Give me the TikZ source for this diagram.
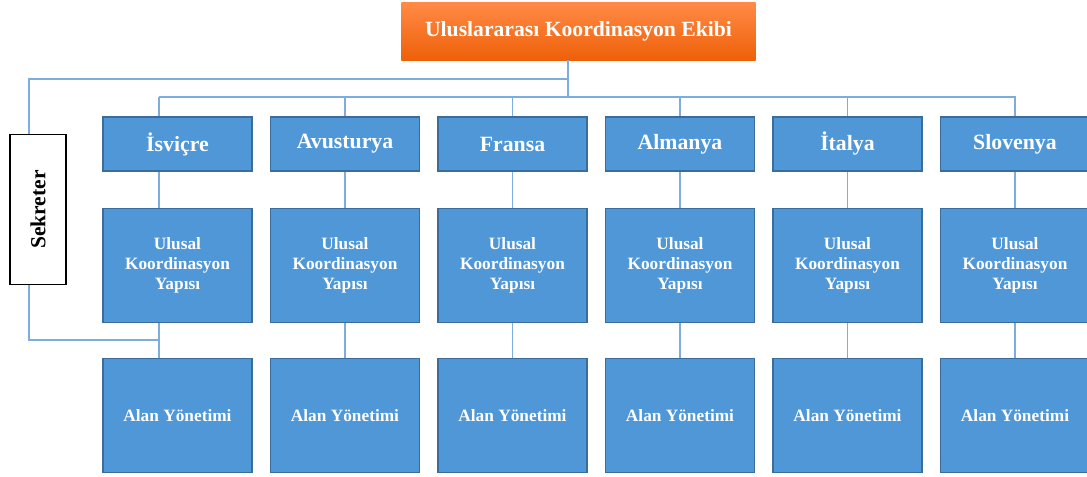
\documentclass[tikz,border=0pt]{standalone}
\usepackage{fontspec}
\setmainfont{Liberation Serif}
\definecolor{boxblue}{RGB}{79,151,214}
\definecolor{boxedge}{RGB}{58,108,156}
\definecolor{linkblue}{RGB}{125,172,222}
\definecolor{orangetop}{RGB}{255,138,70}
\definecolor{orangebot}{RGB}{238,96,8}
\begin{document}
\begin{tikzpicture}[
x=0.025cm, y=-0.025cm,
every node/.style={font=\bfseries, text=white, align=center},
head/.style={top color=orangetop, bottom color=orangebot, minimum width=8.85cm, minimum height=1.425cm, font=\bfseries\fontsize{15.4}{18}\selectfont},
country/.style={fill=boxblue, draw=boxedge, line width=1.2pt, minimum width=3.72cm, minimum height=1.35cm, font=\bfseries\fontsize{15.5}{18}\selectfont},
unit/.style={country, minimum height=2.85cm, font=\bfseries\fontsize{12.3}{14.2}\selectfont},
secbox/.style={draw=black, line width=1.3pt, fill=white, text=black, minimum width=1.42cm, minimum height=3.75cm, font=\bfseries\fontsize{15.3}{18}\selectfont},
link/.style={draw=linkblue, line width=0.8pt}
]
    \useasboundingbox (0,0) rectangle (1087,477);

    % Head and secretary
    \node[head] (head) at (578.5,31.5) {Uluslararası Koordinasyon Ekibi};
    \node[secbox] (sek) at (38,209.5) {\rotatebox{90}{Sekreter}};

    % Junctions
    \coordinate (split) at (568,79);
    \coordinate (bus) at (568,97);
    \coordinate (sektop) at (29,79);
    \coordinate (sekbot) at (29,340);

    \draw[link] (head.south -| split) -- (bus);
    \draw[link] (split) -- (sektop) -- (sek.north -| sektop);
    \draw[link] (159,97) -- (1016,97);

    % Countries
    \foreach \name/\label/\dx [count=\i from 0] in {
        isvicre/İsviçre/-18.5, avusturya/Avusturya/0, fransa/Fransa/0,
        almanya/Almanya/0, italya/İtalya/0, slovenya/Slovenya/0} {
        \node[country] (\name) at (177.5+167.5*\i,144) {\label};
        \node[unit] (\name-u) at (177.5+167.5*\i,265.5) {Ulusal\\Koordinasyon\\Yapısı};
        \node[unit] (\name-a) at (177.5+167.5*\i,415.5) {Alan Yönetimi};
        \coordinate (\name-x) at (177.5+167.5*\i+\dx,97);
        \draw[link] (\name-x) -- (\name.north -| \name-x);
        \draw[link] (\name.south -| \name-x) -- (\name-u.north -| \name-x);
        \draw[link] (\name-u.south -| \name-x) -- (\name-a.north -| \name-x);
    }

    % Secretary back to the first column
    \draw[link] (sek.south -| sekbot) -- (sekbot) -- (sekbot -| isvicre-x);

\end{tikzpicture}
\end{document}
